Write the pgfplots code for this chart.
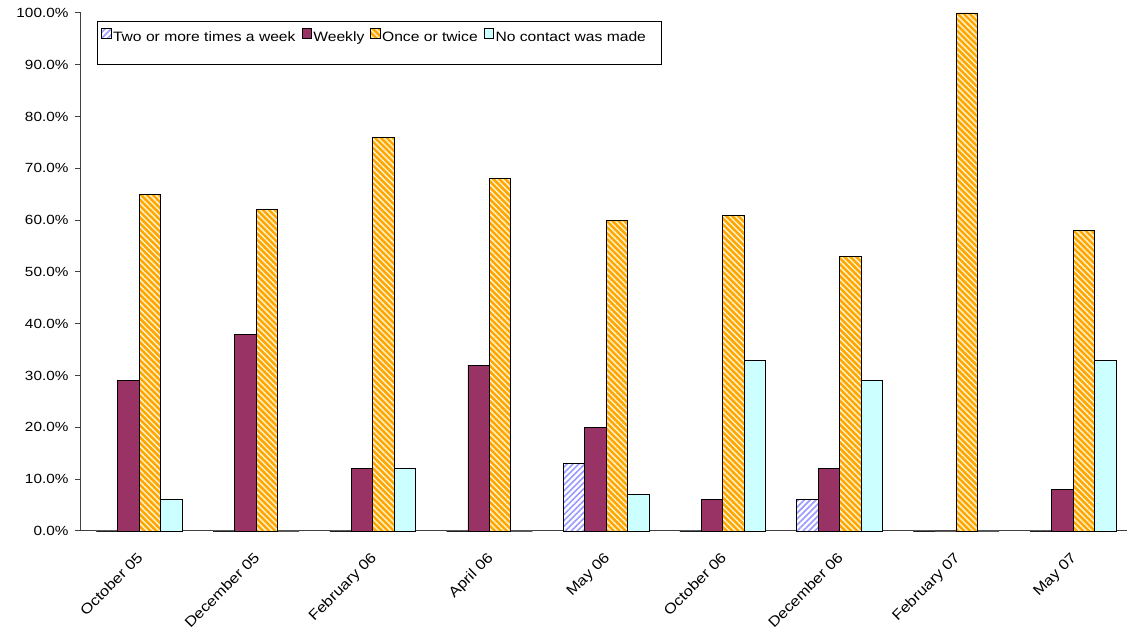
\documentclass[border=0pt]{standalone}
\usepackage{fontspec}
\setmainfont{Liberation Sans}[FakeStretch=1.15]
\usepackage{pgfplots}
\pgfplotsset{compat=1.18}
\usetikzlibrary{patterns.meta}
\definecolor{lav}{HTML}{9999FF}
\definecolor{wk}{HTML}{993366}
\definecolor{org}{HTML}{FFA500}
\definecolor{pale}{HTML}{FFF2C8}
\definecolor{cy}{HTML}{CCFFFF}
\definecolor{axgray}{HTML}{404040}
\pgfplotstableread{
x two weekly once none
0 0 29 65 6
1 0 38 62 0
2 0 12 76 12
3 0 32 68 0
4 13 20 60 7
5 0 6 61 33
6 6 12 53 29
7 0 0 100 0
8 0 8 58 33
}\datatable
\begin{document}
\fontsize{13.3bp}{16bp}\selectfont
\begin{tikzpicture}[x=1bp,y=1bp]
\path[use as bounding box] (-81,-102) rectangle (1047,531);
\begin{axis}[
  at={(0,0)}, anchor=south west,
  scale only axis,
  width=1046bp, height=518bp,
  xmin=-0.5, xmax=8.463,
  ymin=0, ymax=100,
  ybar=0pt,
  bar width=0.184,
  axis x line*=bottom, axis y line*=left,
  axis line style={axgray, line width=1bp},
  x axis line style={-}, y axis line style={-},
  xtick={0,...,8},
  xticklabels={October 05,December 05,February 06,April 06,May 06,October 06,December 06,February 07,May 07},
  major x tick style={draw=none},
  extra x ticks={0.5,1.5,...,7.5},
  extra x tick labels={},
  extra x tick style={tick style={draw=axgray, line width=1bp}, major tick length=6bp},
  xticklabel style={xshift=-3bp, yshift=-8bp, rotate=45, anchor=north east, font=\fontsize{14.3bp}{16bp}\selectfont},
  ytick={0,10,...,100},
  yticklabel={\pgfmathprintnumber[fixed,fixed zerofill,precision=1]{\tick}\%},
  /pgf/number format/assume math mode=true,
  yticklabel style={font=\fontsize{13.3bp}{16bp}\selectfont, xshift=-2bp},
  ytick style={draw=axgray, line width=1bp},
  tick align=outside,
  major tick length=6bp,
  legend columns=4,
  legend style={at={(0.0153,0.9826)}, anchor=north west, draw=none, fill=none,
    font=\fontsize{13.6bp}{16bp}\selectfont,
    nodes={inner xsep=1bp, inner ysep=2bp},
    inner xsep=4bp, inner ysep=6bp,
    /tikz/every odd column/.append style={column sep=0.5bp},
    /tikz/every even column/.append style={column sep=5bp}},
  legend image code/.code={\draw[#1, line width=0.8bp] (0bp,-0.5bp) rectangle (9.5bp,9bp);},
  clip=false,
]
\draw[black, line width=1bp, fill=white] (axis description cs:0.0153,0.9826) rectangle (axis description cs:0.5545,0.8996);
\addplot[draw=black, line width=0.9bp, fill=white, postaction={pattern={Lines[angle=45,distance=4.2bp,line width=1.6bp]}, pattern color=lav}] table[x=x,y=two] {\datatable};
\addplot[draw=black, line width=0.9bp, fill=wk] table[x=x,y=weekly] {\datatable};
\addplot[draw=black, line width=0.9bp, fill=org, postaction={pattern={Lines[angle=-45,distance=4.2bp,line width=1.5bp]}, pattern color=pale}] table[x=x,y=once] {\datatable};
\addplot[draw=black, line width=0.9bp, fill=cy] table[x=x,y=none] {\datatable};
\legend{Two or more times a week,Weekly,Once or twice,No contact was made}
\end{axis}
\end{tikzpicture}
\end{document}
